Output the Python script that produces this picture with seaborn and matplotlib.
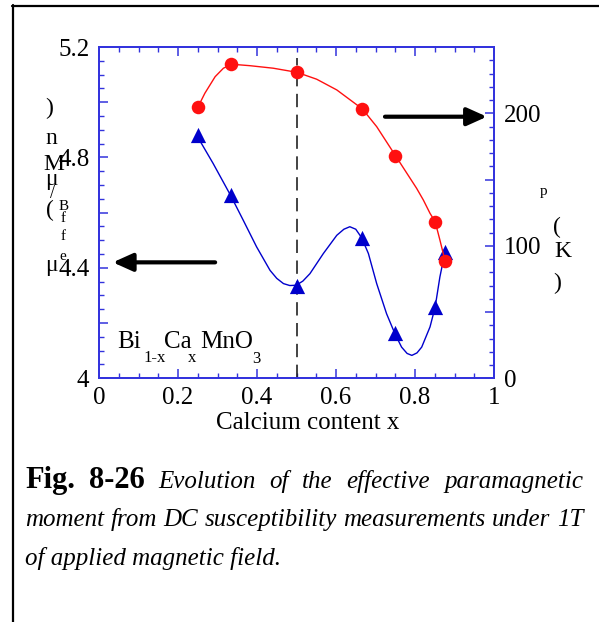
import matplotlib
matplotlib.use("Agg")
import matplotlib.pyplot as plt
import numpy as np
import pandas as pd
import seaborn as sns
from matplotlib.lines import Line2D
from matplotlib.ticker import FixedLocator, MultipleLocator, FuncFormatter

# measured points (x = Ca content)
X_POINTS = [0.25, 0.333, 0.5, 0.667, 0.75, 0.85, 0.875]
MU_EFF = [4.880, 4.663, 4.335, 4.509, 4.163, 4.257, 4.457]      # left axis
T_P = [205.0, 237.0, 231.0, 203.0, 168.0, 118.0, 88.5]           # right axis (K)

# smooth guide lines
MU_CURVE_X = [0.247, 0.289, 0.333, 0.365, 0.399, 0.433, 0.450, 0.467, 0.483, 0.499,
              0.516, 0.534, 0.568, 0.602, 0.620, 0.635, 0.650, 0.665, 0.682, 0.703,
              0.728, 0.749, 0.766, 0.780, 0.792, 0.805, 0.817, 0.838, 0.851, 0.863, 0.876]
MU_CURVE_Y = [4.881, 4.778, 4.663, 4.573, 4.476, 4.391, 4.362, 4.343, 4.336, 4.337,
              4.352, 4.379, 4.452, 4.518, 4.540, 4.549, 4.540, 4.509, 4.452, 4.343,
              4.234, 4.162, 4.113, 4.090, 4.083, 4.092, 4.113, 4.186, 4.258, 4.367, 4.458]
TP_CURVE_X = [0.251, 0.268, 0.294, 0.315, 0.336, 0.382, 0.441, 0.501, 0.551,
              0.602, 0.667, 0.703, 0.751, 0.804, 0.821, 0.838, 0.851, 0.863, 0.876]
TP_CURVE_Y = [205.0, 215.1, 227.6, 234.0, 237.0, 235.9, 234.0, 230.9, 225.7,
              217.6, 203.2, 189.9, 167.8, 143.4, 134.6, 124.5, 118.2, 104.4, 88.8]

X_TICKS = [0, 0.2, 0.4, 0.6, 0.8, 1]
MU_TICK_LABELS = [4.0, 4.4, 4.8, 5.2]
TP_TICK_LABELS = [0, 100, 200]

DASH_X, DASH_BOTTOM, DASH_TOP = 0.5, 4.0, 5.16
LEFT_ARROW = ((0.294, 4.42), (0.035, 4.42))     # (tail, head) on left axis
RIGHT_ARROW = ((0.724, 197.4), (0.982, 197.4))  # (tail, head) on right axis

BLUE = "#0000cc"
AXBLUE = "#3333dd"
RED = "#ff1010"
SERIF = "Liberation Serif"

sns.set_theme(style="white", font=SERIF)
plt.rcParams.update({"font.family": [SERIF, "DejaVu Serif"], "text.color": "black"})

W, H = 599, 622
fig = plt.figure(figsize=(W / 100, H / 100), dpi=100)


def fx(px):
    return px / W


def fy(py):
    return 1 - py / H


ax = fig.add_axes([fx(99), fy(378.3), (494 - 99) / W, (378.3 - 47) / H])
ax2 = ax.twinx()

mu_df = pd.DataFrame({"x": MU_CURVE_X, "y": MU_CURVE_Y})
tp_df = pd.DataFrame({"x": TP_CURVE_X, "y": TP_CURVE_Y})
pts = pd.DataFrame({"x": X_POINTS, "mu": MU_EFF, "tp": T_P})

sns.lineplot(data=mu_df, x="x", y="y", ax=ax, sort=False, estimator=None,
             color=BLUE, linewidth=1.0, zorder=2)
sns.scatterplot(data=pts, x="x", y="mu", ax=ax, marker="^", s=120,
                color=BLUE, edgecolor=BLUE, linewidth=0, zorder=3)
ax.vlines(DASH_X, DASH_BOTTOM, DASH_TOP, colors="#222222", linewidth=1.2,
          linestyles=(0, (8, 4.5)), zorder=1)

sns.lineplot(data=tp_df, x="x", y="y", ax=ax2, sort=False, estimator=None,
             color=RED, linewidth=1.0, zorder=2)
sns.scatterplot(data=pts, x="x", y="tp", ax=ax2, marker="o", s=95,
                color=RED, edgecolor=RED, linewidth=0, zorder=3)

ax.set_xlim(0, 1)
ax.set_ylim(4.0, 5.2)
ax2.set_ylim(0, 250)
for a in (ax, ax2):
    a.set_xlabel("")
    a.set_ylabel("")
    for sp in a.spines.values():
        sp.set_color(AXBLUE)
        sp.set_linewidth(1.3)

# ticks
ax.xaxis.set_major_locator(FixedLocator(X_TICKS))
ax.xaxis.set_minor_locator(MultipleLocator(0.05))
ax.xaxis.set_major_formatter(FuncFormatter(lambda v, p: f"{v:g}"))
ax.yaxis.set_major_locator(MultipleLocator(0.2))
ax.yaxis.set_minor_locator(MultipleLocator(0.05))
ax.yaxis.set_major_formatter(FuncFormatter(
    lambda v, p: f"{v:g}" if any(abs(v - t) < 1e-6 for t in MU_TICK_LABELS) else ""))
ax2.yaxis.set_major_locator(MultipleLocator(50))
ax2.yaxis.set_minor_locator(MultipleLocator(10))
ax2.yaxis.set_major_formatter(FuncFormatter(
    lambda v, p: f"{v:g}" if any(abs(v - t) < 1e-6 for t in TP_TICK_LABELS) else ""))

ax.tick_params(axis="x", which="both", direction="in", top=True, bottom=True,
               color=AXBLUE, labelcolor="black", labelsize=18, pad=6)
ax.tick_params(axis="y", which="both", direction="in", left=True, right=False,
               color=AXBLUE, labelcolor="black", labelsize=18, pad=7)
ax2.tick_params(axis="y", which="both", direction="in", left=False, right=True,
                color=AXBLUE, labelcolor="black", labelsize=18, pad=7)
for a in (ax, ax2):
    a.tick_params(which="major", length=6.5, width=1.1)
    a.tick_params(which="minor", length=3.6, width=1.0)

# arrows
arrow_kw = dict(arrowstyle="-|>,head_length=1.0,head_width=0.45", color="black",
                lw=3, shrinkA=0, shrinkB=0)
ax.annotate("", xy=LEFT_ARROW[1], xytext=LEFT_ARROW[0], arrowprops=arrow_kw)
ax2.annotate("", xy=RIGHT_ARROW[1], xytext=RIGHT_ARROW[0], arrowprops=arrow_kw)

# compound label inside the plot
for s, x, y, size in [("Bi", 117, 348, 18), ("1-x", 143, 362, 12), ("Ca", 164, 348, 18),
                      ("x", 188, 362, 12), ("MnO", 200, 348, 18), ("3", 252, 363, 12)]:
    fig.text(fx(x), fy(y), s, fontsize=size, ha="left", va="baseline")

fig.text(fx(308), fy(429), "Calcium content x", fontsize=18, ha="center", va="baseline")

# broken axis titles, as they appear in the source
for s, x, y, size in [(")", 49, 108, 17), ("n", 51, 138, 17), ("M", 54, 165, 17),
                      ("\u03bc", 51, 180, 17), ("/", 52, 194, 13), ("(", 50, 210, 17),
                      ("B", 64, 206, 11), ("f", 63, 218, 11), ("f", 63, 236, 11),
                      ("e", 63, 256, 11), ("\u03bc", 51, 266, 17),
                      ("p", 544, 192, 11), ("(", 557, 227, 17), ("K", 563, 252, 17),
                      (")", 557, 283, 17)]:
    fig.text(fx(x), fy(y), s, fontsize=size, ha="center", va="center")

# caption, justified like the source
renderer = fig.canvas.get_renderer()
ITALIC = 18


def justified(words, y, left=25, right=583):
    texts = [fig.text(fx(left), fy(y), w, fontsize=sz, fontweight=fw, fontstyle=st,
                      ha="left", va="baseline") for w, sz, fw, st in words]
    widths = [t.get_window_extent(renderer).width for t in texts]
    gap = (right - left - sum(widths)) / (len(texts) - 1)
    x = left
    for t, w in zip(texts, widths):
        t.set_x(fx(x))
        x += w + gap


it = lambda w: (w, ITALIC, "normal", "italic")
justified([("Fig.", 22, "bold", "normal"), ("8-26", 22, "bold", "normal")]
          + [it(w) for w in "Evolution of the effective paramagnetic".split()], 488)
justified([it(w) for w in "moment from DC susceptibility measurements under 1T".split()], 526)
fig.text(fx(25), fy(565), "of applied magnetic field.", fontsize=ITALIC, fontstyle="italic",
         ha="left", va="baseline")

# frame around the figure
fig.add_artist(Line2D([fx(12.5), fx(12.5)], [fy(5), fy(622)], color="black", lw=1.6))
fig.add_artist(Line2D([fx(12), fx(599)], [fy(6), fy(6)], color="black", lw=1.6))

fig.savefig("out.png", dpi=100)
